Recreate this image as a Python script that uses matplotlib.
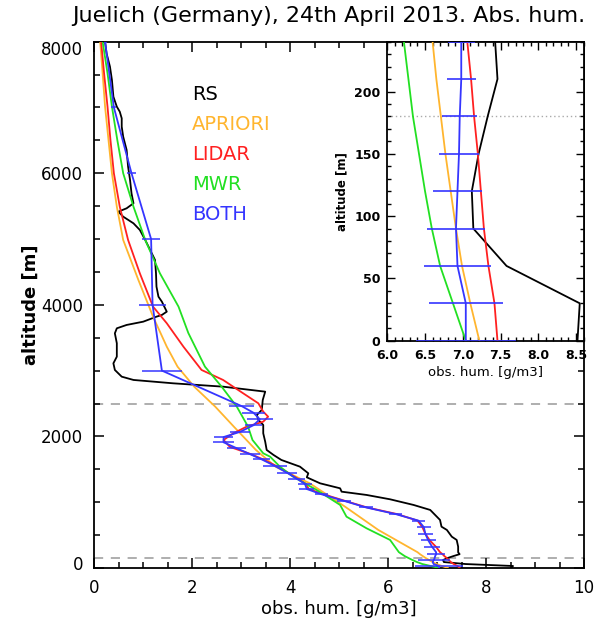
import matplotlib
matplotlib.use("Agg")
import matplotlib.pyplot as plt
import matplotlib.transforms as mtransforms
from matplotlib.ticker import MultipleLocator

# ---- data ----
rs_alt = [0, 30, 60, 90, 120, 150, 180, 210, 239, 324, 426, 476, 578, 628, 730,
          882, 958, 1044, 1110, 1160, 1211, 1287, 1378, 1439, 1540, 1642, 1718,
          1794, 1920, 2047, 2174, 2250, 2326, 2402, 2554, 2680, 2756, 2807, 2858,
          2908, 3010, 3111, 3212, 3416, 3567, 3643, 3694, 3744, 3820, 3846, 3896,
          4048, 4124, 4276, 4479, 4682, 4834, 4986, 5138, 5239, 5340, 5416, 5467,
          5543, 5695, 5898, 6100, 6354, 6556, 6708, 6835, 6936, 7012, 7164, 7418,
          7620, 7823, 8000]
rs_val = [8.52, 8.55, 7.58, 7.14, 7.12, 7.21, 7.33, 7.46, 7.43, 7.43, 7.40, 7.30,
          7.20, 7.09, 7.06, 6.86, 6.52, 6.04, 5.56, 5.05, 5.02, 4.61, 4.34, 4.37,
          4.20, 3.82, 3.66, 3.52, 3.49, 3.45, 3.45, 3.35, 3.32, 3.42, 3.44, 3.49,
          2.63, 1.61, 0.80, 0.56, 0.42, 0.39, 0.46, 0.46, 0.42, 0.46, 0.66, 1.00,
          1.27, 1.38, 1.48, 1.38, 1.31, 1.27, 1.26, 1.24, 1.14, 1.04, 0.93, 0.80,
          0.59, 0.49, 0.66, 0.80, 0.76, 0.73, 0.69, 0.66, 0.59, 0.56, 0.56, 0.52,
          0.46, 0.39, 0.36, 0.32, 0.25, 0.22]

apriori_alt = [0, 30, 60, 90, 120, 150, 180, 210, 240, 578, 932, 1287, 1540, 1794,
               2148, 2452, 2756, 3060, 3364, 3820, 4378, 4986, 5492, 6000, 6506,
               7012, 7519, 8000]
apriori_val = [7.22, 7.10, 6.99, 6.91, 6.84, 6.77, 6.71, 6.65, 6.60, 5.80, 5.12,
               4.40, 3.70, 3.30, 2.85, 2.47, 2.04, 1.70, 1.48, 1.20, 0.90, 0.59,
               0.46, 0.36, 0.29, 0.22, 0.17, 0.12]

lidar_alt = [0, 30, 60, 90, 120, 150, 180, 210, 240, 320, 420, 520, 620, 720, 820,
             920, 1020, 1120, 1200, 1280, 1360, 1450, 1550, 1650, 1730, 1840, 1946,
             2047, 2148, 2224, 2300, 2376, 2503, 2655, 2858, 3010, 3364, 3720, 3972,
             4479, 4986, 5492, 6000, 6506, 7012, 7519, 8000]
lidar_val = [7.46, 7.42, 7.34, 7.28, 7.24, 7.20, 7.15, 7.11, 7.06, 6.98, 6.85, 6.76,
             6.70, 6.60, 6.18, 5.57, 5.12, 4.68, 4.38, 4.32, 4.15, 3.95, 3.72, 3.45,
             3.20, 2.77, 2.64, 2.84, 3.11, 3.45, 3.55, 3.45, 3.35, 3.04, 2.63, 2.19,
             1.82, 1.48, 1.20, 0.93, 0.69, 0.52, 0.40, 0.33, 0.27, 0.20, 0.14]

mwr_alt = [0, 30, 60, 90, 120, 150, 180, 210, 240, 426, 603, 780, 958, 1186, 1388,
           1540, 1692, 1743, 1946, 2148, 2452, 2756, 3060, 3572, 3972, 4479, 4986,
           5492, 6000, 6506, 7012, 7519, 8000]
mwr_val = [7.04, 6.87, 6.70, 6.59, 6.50, 6.42, 6.34, 6.28, 6.22, 6.04, 5.56, 5.15,
           5.02, 4.54, 4.06, 3.79, 3.59, 3.45, 3.23, 3.14, 2.91, 2.60, 2.26, 1.92,
           1.72, 1.34, 1.04, 0.80, 0.59, 0.47, 0.36, 0.27, 0.17]

both_alt = [0, 30, 60, 90, 120, 150, 180, 210, 240, 320, 420, 520, 620, 720, 820,
            920, 1020, 1120, 1200, 1280, 1360, 1450, 1550, 1650, 1730, 1820, 1910,
            1990, 2070, 2170, 2260, 2360, 2460, 3000, 4000, 5000, 6000, 7000, 8000]
both_val = [7.04, 7.04, 6.93, 6.91, 6.93, 6.95, 6.96, 6.98, 6.98, 6.90, 6.82, 6.76,
            6.73, 6.62, 6.15, 5.55, 5.10, 4.64, 4.34, 4.30, 4.13, 3.93, 3.69, 3.42,
            3.18, 2.91, 2.64, 2.64, 2.98, 3.25, 3.38, 3.25, 3.01, 1.38, 1.19, 1.16,
            0.76, 0.40, 0.22]
both_err = [0.66, 0.49, 0.45, 0.39, 0.33, 0.27, 0.23, 0.19, 0.18, 0.16, 0.15, 0.15,
            0.14, 0.14, 0.14, 0.14, 0.14, 0.14, 0.15, 0.15, 0.17, 0.20, 0.24, 0.17,
            0.20, 0.19, 0.22, 0.19, 0.20, 0.17, 0.27, 0.24, 0.25, 0.41, 0.28, 0.19,
            0.10, 0.05, 0.03]
# levels whose error bars are only shown in the zoomed inset
inset_only_alt = [0, 60, 90, 150, 180, 240]

main_hlines = [150, 2500]
inset_hline = 180

series = [
    ("RS", rs_alt, rs_val, "black"),
    ("APRIORI", apriori_alt, apriori_val, "#ffb52e"),
    ("LIDAR", lidar_alt, lidar_val, "#ff2020"),
    ("MWR", mwr_alt, mwr_val, "#22e022"),
    ("BOTH", both_alt, both_val, "#3535ff"),
]

plt.rcParams["font.family"] = ["DejaVu Sans"]

fig = plt.figure(figsize=(6.06, 6.20), dpi=100)
ax = fig.add_axes([0.1556, 0.0839, 0.8081, 0.8489])

for y in main_hlines:
    ax.axhline(y, color="#999999", lw=1.1, ls=(0, (6, 5)), zorder=1)

for name, alt, val, col in series:
    ax.plot(val, alt, color=col, lw=1.3, zorder=3)

keep = [i for i, a in enumerate(both_alt) if a not in inset_only_alt]
ax.errorbar([both_val[i] for i in keep], [both_alt[i] for i in keep],
            xerr=[both_err[i] for i in keep], fmt="none", ecolor="#3535ff",
            elinewidth=1.1, capsize=0, zorder=4)

ax.set_xlim(0, 10)
ax.set_ylim(0, 8000)
ax.set_xticks([0, 2, 4, 6, 8, 10])
ax.set_yticks([0, 2000, 4000, 6000, 8000])
ax.xaxis.set_minor_locator(MultipleLocator(0.5))
ax.yaxis.set_minor_locator(MultipleLocator(500))
ax.tick_params(which="both", direction="in", top=True, right=True, width=1.1)
ax.tick_params(which="major", length=7, labelsize=12, pad=8)
ax.tick_params(which="minor", length=4.5)
for sp in ax.spines.values():
    sp.set_linewidth(1.3)
# end labels pulled inward, as in the original
ylabs = ax.get_yticklabels()
up = mtransforms.ScaledTranslation(0, 5 / 100, fig.dpi_scale_trans)
down = mtransforms.ScaledTranslation(0, -6 / 100, fig.dpi_scale_trans)
ylabs[0].set_transform(ylabs[0].get_transform() + up)
ylabs[-1].set_transform(ylabs[-1].get_transform() + down)

ax.set_xlabel("obs. hum. [g/m3]", fontsize=13, labelpad=2)
ax.set_ylabel("altitude [m]", fontsize=13, fontweight="bold", labelpad=1)

# colored text legend
for i, (name, alt, val, col) in enumerate(series):
    ax.text(0.2, 0.899 - i * 0.057, name, color=col, fontsize=14,
            transform=ax.transAxes, va="center", ha="left")

fig.text(0.543, 0.975, "Juelich (Germany), 24th April 2013. Abs. hum.",
         fontsize=16, ha="center", va="center")

# inset: lowest levels
ins = fig.add_axes([0.6391, 0.4505, 0.3238, 0.4823])
ins.set_facecolor("white")
ins.axhline(inset_hline, color="#aaaaaa", lw=1.0, ls=(0, (1, 2)), zorder=1)
for name, alt, val, col in series:
    ins.plot(val, alt, color=col, lw=1.3, zorder=3)
ins.errorbar(both_val, both_alt, xerr=both_err, fmt="none", ecolor="#3535ff",
             elinewidth=1.2, capsize=0, zorder=4)
ins.set_xlim(6.0, 8.6)
ins.set_ylim(0, 240)
ins.xaxis.set_major_locator(MultipleLocator(0.5))
ins.xaxis.set_minor_locator(MultipleLocator(0.1))
ins.yaxis.set_major_locator(MultipleLocator(50))
ins.yaxis.set_minor_locator(MultipleLocator(10))
ins.tick_params(which="both", direction="in", top=True, right=True, width=1.0)
ins.tick_params(which="major", length=6, labelsize=9)
ins.tick_params(axis="x", which="major", pad=6)
ins.tick_params(axis="y", which="major", pad=5)
ins.tick_params(which="minor", length=3)
for lab in ins.get_xticklabels() + ins.get_yticklabels():
    lab.set_fontweight("bold")
for sp in ins.spines.values():
    sp.set_linewidth(1.3)
ins.set_xlabel("obs. hum. [g/m3]", fontsize=9.5, labelpad=3)
ins.set_ylabel("altitude [m]", fontsize=8.5, fontweight="bold", labelpad=4)

fig.savefig("out.png", dpi=100)
